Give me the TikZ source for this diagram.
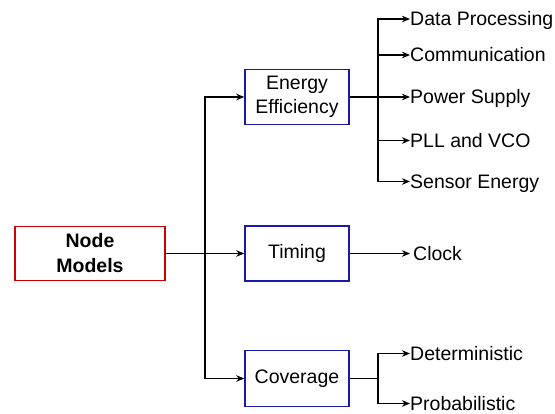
\documentclass[tikz,border=0pt]{standalone}
\usepackage{fontspec}
\setmainfont{Liberation Sans}
\usetikzlibrary{arrows.meta}
\definecolor{boxred}{RGB}{204,0,0}
\definecolor{boxblue}{RGB}{26,26,170}
\begin{document}
\begin{tikzpicture}[x=1pt,y=-1pt,
  font=\fontsize{19.5}{23.5}\selectfont,
  box/.style={draw=boxblue, line width=1.5pt, minimum width=104pt,
    minimum height=55pt, align=center, inner sep=0pt},
  rootbox/.style={box, draw=boxred, minimum width=150pt, minimum height=54pt,
    font=\fontsize{19.5}{25}\selectfont\bfseries},
  leaf/.style={anchor=west, inner sep=0pt, text height=14pt, text depth=0pt},
  link/.style={line width=1.3pt},
  arr/.style={link, -{Stealth[length=8pt,width=6.5pt,inset=2.5pt]}}]
\useasboundingbox (0,0) rectangle (555,414);

% main boxes
\node[rootbox] (nm) at (90,253.5) {Node\\Models};
\node[box] (ee) at (297,97) {Energy\\Efficiency};
\node[box] (tm) at (297,253.5) {Timing};
\node[box, minimum height=56pt] (cv) at (297,378.5) {Coverage};

% leaf labels
\node[leaf] (dp)  at (410,19)    {Data Processing};
\node[leaf] (cm)  at (410,55)    {Communication};
\node[leaf] (ps)  at (410,97)    {Power Supply};
\node[leaf] (pll) at (410,140.5) {PLL and VCO};
\node[leaf] (se)  at (410,181.5) {Sensor Energy};
\node[leaf, inner xsep=3pt] (ck) at (410,253.5) {Clock};
\node[leaf] (det) at (410,353.5) {Deterministic};
\node[leaf] (prb) at (410,403.5) {Probabilistic};

% branching points
\coordinate (spl) at (205,253.5);
\coordinate (eb) at (378,97);
\coordinate (cb) at (378,378.5);

% root to categories
\draw[arr] (nm.east) -- (tm.west);
\draw[arr] (spl) |- (ee.west);
\draw[arr] (spl) |- (cv.west);

% energy efficiency branch
\draw[link] (ee.east) -- (eb);
\draw[arr] (eb) |- (dp.west);
\draw[arr] (eb) |- (cm.west);
\draw[arr] (eb) -- (ps.west);
\draw[arr] (eb) |- (pll.west);
\draw[arr] (eb) |- (se.west);

% timing branch
\draw[arr] (tm.east) -- (ck.west);

% coverage branch
\draw[link] (cv.east) -- (cb);
\draw[arr] (cb) |- (det.west);
\draw[arr] (cb) |- (prb.west);
\end{tikzpicture}
\end{document}
